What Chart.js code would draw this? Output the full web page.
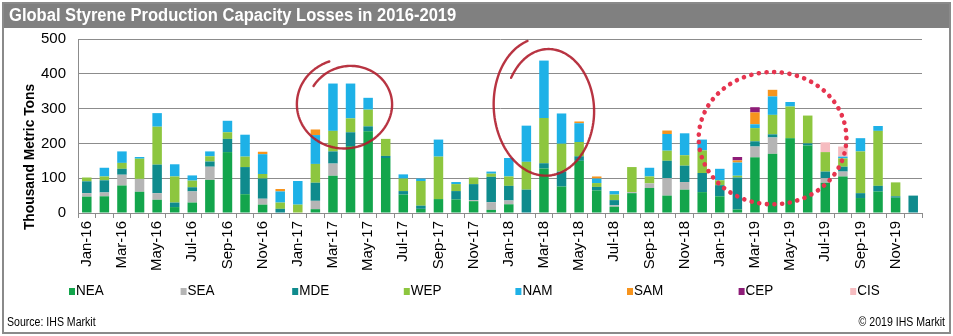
<!DOCTYPE html>
<html>
<head>
<meta charset="utf-8">
<script src="https://cdn.jsdelivr.net/npm/chart.js@4/dist/chart.umd.min.js"></script>
<style>
  html, body { margin: 0; padding: 0; background: #ffffff; overflow: hidden; }
  #wrap { position: relative; width: 953px; height: 336px; }
</style>
</head>
<body>
<div id="wrap"><canvas id="c" width="953" height="336"></canvas></div>
<script>
// Monthly capacity losses, thousand metric tons, Jan-16 .. Dec-19
const months = [
  'Jan-16','Feb-16','Mar-16','Apr-16','May-16','Jun-16','Jul-16','Aug-16','Sep-16','Oct-16','Nov-16','Dec-16',
  'Jan-17','Feb-17','Mar-17','Apr-17','May-17','Jun-17','Jul-17','Aug-17','Sep-17','Oct-17','Nov-17','Dec-17',
  'Jan-18','Feb-18','Mar-18','Apr-18','May-18','Jun-18','Jul-18','Aug-18','Sep-18','Oct-18','Nov-18','Dec-18',
  'Jan-19','Feb-19','Mar-19','Apr-19','May-19','Jun-19','Jul-19','Aug-19','Sep-19','Oct-19','Nov-19','Dec-19'
];

const regionNames = ['NEA','SEA','MDE','WEP','NAM','SAM','CEP','CIS'];

const nea = [47,48,79,61,38,17,30,95,175,54,24,0, 0,11,107,192,235,158,53,12,40,39,34,9, 25,0,128,76,150,65,18,57,72,50,67,60, 48,10,160,170,215,194,87,105,43,62,44,0];
const sea = [10,11,31,37,19,0,32,38,0,0,17,0, 0,24,35,0,0,0,0,0,0,0,3,22, 11,0,0,0,0,0,4,3,13,50,22,0, 0,0,31,47,0,0,13,14,0,0,0,0];
const mde = [34,35,17,0,82,13,12,15,38,78,58,12, 0,52,35,40,14,6,10,9,0,24,46,73, 42,67,15,43,13,10,15,0,0,50,47,55, 32,92,15,9,0,6,19,14,14,16,4,50];
const wep = [11,11,17,58,109,75,19,15,19,30,13,18, 24,54,59,40,48,49,36,71,122,20,19,9, 27,80,130,80,41,11,16,72,20,29,30,65, 14,5,38,56,91,80,56,24,120,158,40,0];
const nam = [0,25,33,5,39,35,15,14,33,63,57,32, 68,83,136,100,34,0,12,7,49,6,0,6, 53,104,165,87,54,13,10,0,25,48,63,31, 33,38,11,53,13,0,0,5,38,14,0,0];
const sam = [0,0,0,0,0,0,0,0,0,0,7,7, 0,16,0,0,0,0,0,0,0,0,0,0, 0,0,0,0,5,6,0,0,0,10,0,0, 0,6,34,19,0,0,0,0,0,0,0,0];
const cep = [0,0,0,0,0,0,0,0,0,0,0,0, 0,0,0,0,0,0,0,0,0,0,0,0, 0,0,0,0,0,0,0,0,0,0,0,0, 0,10,15,0,0,0,0,0,0,0,0,0];
const cis = [0,0,0,0,0,0,0,0,0,0,0,0, 0,0,0,0,0,0,0,0,0,0,0,0, 0,0,0,0,0,0,0,0,0,0,0,0, 0,0,0,0,0,0,28,29,0,0,0,0];

const seriesValues = [nea, sea, mde, wep, nam, sam, cep, cis];
const regionColors = ['#13a54c','#b5b5b5','#0f8b8d','#8dc63f','#1eb1e7','#f7941d','#8e1c78','#f6bcc0'];

const FONT = "'Liberation Sans', Arial, Helvetica, sans-serif";

// draw text squeezed horizontally, the way the narrow face renders
function narrowText(ctx, text, x, y, font, sx, align) {
  ctx.save();
  ctx.font = font;
  ctx.textBaseline = 'middle';
  ctx.textAlign = 'left';
  const w = ctx.measureText(text).width * sx;
  let left = x;
  if (align === 'right') left = x - w;
  ctx.translate(left, y);
  ctx.scale(sx, 1);
  ctx.fillText(text, 0, 0);
  ctx.restore();
  return w;
}

// frame, title bar, legend, footer and axis title
const framePlugin = {
  id: 'frame',
  beforeDraw(chart) {
    const ctx = chart.ctx;
    ctx.save();
    ctx.fillStyle = '#ffffff';
    ctx.fillRect(0, 0, chart.width, chart.height);
    ctx.fillStyle = '#808080';
    ctx.fillRect(3, 3, chart.width - 6, 25);
    ctx.fillStyle = '#ffffff';
    narrowText(ctx, 'Global Styrene Production Capacity Losses in 2016-2019', 9, 16, 'bold 18px ' + FONT, 0.92, 'left');
    ctx.strokeStyle = '#8a8a8a';
    ctx.lineWidth = 2;
    ctx.strokeRect(3, 3, chart.width - 6, chart.height - 6);
    ctx.restore();
  },
  afterDraw(chart) {
    const ctx = chart.ctx;
    ctx.save();
    // y-axis title
    ctx.fillStyle = '#000000';
    ctx.translate(30, 157);
    ctx.rotate(-Math.PI / 2);
    ctx.font = 'bold 15px ' + FONT;
    ctx.textAlign = 'center';
    ctx.textBaseline = 'middle';
    ctx.save();
    ctx.scale(0.92, 1);
    ctx.fillText('Thousand Metric Tons', 0, 0);
    ctx.restore();
    ctx.restore();

    // legend row
    ctx.save();
    const ds = chart.data.datasets;
    const startX = 69, stepX = 111.6, legY = 291;
    ds.forEach((d, i) => {
      const x = startX + i * stepX;
      ctx.fillStyle = d.backgroundColor;
      ctx.fillRect(x, legY - 3, 6, 7);
      ctx.fillStyle = '#000000';
      narrowText(ctx, d.label, x + 7, legY, '15px ' + FONT, 0.9, 'left');
    });
    // footer
    ctx.fillStyle = '#000000';
    narrowText(ctx, 'Source: IHS Markit', 7, 323, '12px ' + FONT, 0.88, 'left');
    narrowText(ctx, '\u00A9 2019 IHS Markit', 945, 323, '12px ' + FONT, 0.88, 'right');
    ctx.restore();
  }
};

// hand-drawn highlight loops and a dotted ring, placed in data space
const highlightPlugin = {
  id: 'highlights',
  afterDatasetsDraw(chart, args, opts) {
    const ctx = chart.ctx;
    const xs = chart.scales.x, ys = chart.scales.y;
    const catW = xs.getPixelForValue(1) - xs.getPixelForValue(0);
    const unitH = Math.abs(ys.getPixelForValue(0) - ys.getPixelForValue(1));
    opts.items.forEach(it => {
      const cx = xs.getPixelForValue(0) + it.cx * catW;
      const cy = ys.getPixelForValue(it.cy);
      const rx = it.rx * catW;
      const ry = it.ry * unitH;
      ctx.save();
      ctx.translate(cx, cy);
      ctx.rotate(it.tilt || 0);
      ctx.strokeStyle = it.color;
      if (it.kind === 'dots') {
        ctx.lineWidth = 4.6;
        ctx.lineCap = 'round';
        ctx.setLineDash([0.1, 7.6]);
        ctx.beginPath();
        ctx.ellipse(0, 0, rx, ry, 0, 0, Math.PI * 2);
        ctx.stroke();
      } else {
        ctx.lineWidth = 2.4;
        ctx.lineCap = 'round';
        ctx.lineJoin = 'round';
        ctx.globalAlpha = 0.9;
        const start = 1.42 * Math.PI, sweep = -2.22 * Math.PI, N = 160;
        ctx.beginPath();
        for (let i = 0; i <= N; i++) {
          const t = i / N;
          const th = start + sweep * t;
          let s = Math.min(1, Math.max(0, (t - 0.6) / 0.4));
          s = s * s * (3 - 2 * s);
          const k = 1.02 - 0.24 * s;
          const px = Math.cos(th) * rx * k;
          const py = Math.sin(th) * ry * k;
          if (i === 0) ctx.moveTo(px, py); else ctx.lineTo(px, py);
        }
        ctx.stroke();
      }
      ctx.restore();
    });
  }
};

const datasets = regionNames.map((name, i) => ({
  label: name,
  data: seriesValues[i],
  backgroundColor: regionColors[i],
  borderWidth: 0
}));

new Chart(document.getElementById('c'), {
  type: 'bar',
  data: { labels: months, datasets },
  plugins: [framePlugin, highlightPlugin],
  options: {
    responsive: false,
    animation: false,
    devicePixelRatio: 1,
    layout: { padding: { top: 39, right: 31, left: 0, bottom: 0 } },
    datasets: { bar: { categoryPercentage: 1, barPercentage: 0.54 } },
    plugins: {
      legend: { display: false },
      tooltip: { enabled: false },
      highlights: {
        items: [
          { kind: 'loop', cx: 14.66, cy: 314, rx: 2.66, ry: 126, tilt: -0.08, color: '#b01e2e' },
          { kind: 'loop', cx: 26.0, cy: 305, rx: 2.8, ry: 194, tilt: -0.06, color: '#b01e2e' },
          { kind: 'dots', cx: 39.0, cy: 215, rx: 4.2, ry: 190, tilt: 0, color: '#e6344f' }
        ]
      }
    },
    scales: {
      x: {
        stacked: true,
        offset: true,
        grid: { display: true, drawOnChartArea: false, drawTicks: true, tickLength: 5, color: '#8c8c8c', offset: true },
        border: { display: true, color: '#8c8c8c' },
        ticks: {
          autoSkip: false, maxRotation: 90, minRotation: 90, padding: 3,
          color: '#000000', font: { family: FONT, size: 15 },
          callback: (v, i) => (i % 2 === 0 ? months[i] : '')
        },
        afterFit: s => { s.height = 123; }
      },
      y: {
        stacked: true,
        min: 0, max: 500,
        ticks: { stepSize: 50, padding: 12, color: '#000000', font: { family: FONT, size: 15 } },
        grid: { color: '#8c8c8c', drawTicks: false, lineWidth: 1 },
        border: { display: true, color: '#8c8c8c' },
        afterFit: s => { s.width = 78; }
      }
    }
  }
});
</script>
</body>
</html>
